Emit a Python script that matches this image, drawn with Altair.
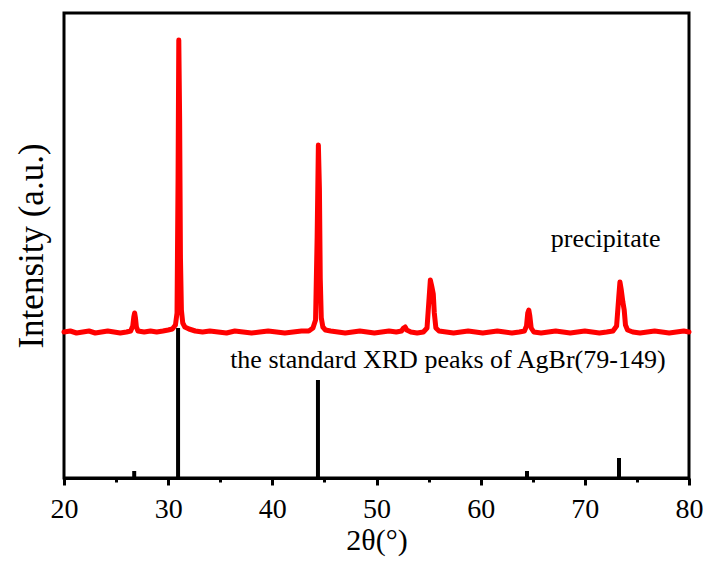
import altair as alt
import pandas as pd

# Measured XRD trace of the precipitate (2theta in degrees, intensity in arbitrary units)
two_theta = [20.0, 20.6, 21.2, 21.8, 22.4, 23.0, 23.6, 24.2, 24.8, 25.4, 26.0, 26.4,
             26.6, 26.7, 26.78, 26.86, 26.95, 27.1, 27.7, 28.3, 28.9, 29.5, 30.0, 30.4,
             30.7, 30.85, 30.95, 31.02, 31.1, 31.18, 31.27, 31.4, 31.6, 32.0, 32.6, 33.3,
             34.0, 34.8, 35.6, 36.4, 37.2, 38.0, 38.8, 39.6, 40.4, 41.2, 42.0, 42.8,
             43.5, 43.9, 44.15, 44.3, 44.42, 44.52, 44.6, 44.7, 44.85, 45.1, 45.6, 46.3,
             47.0, 47.7, 48.4, 49.1, 49.8, 50.5, 51.2, 51.9, 52.4, 52.6, 52.75, 52.9,
             53.3, 53.9, 54.5, 54.85, 55.05, 55.17, 55.3, 55.45, 55.55, 55.7, 56.0, 56.7,
             57.4, 58.1, 58.8, 59.5, 60.2, 60.9, 61.6, 62.3, 63.0, 63.7, 64.2, 64.4,
             64.52, 64.62, 64.72, 64.85, 65.1, 65.8, 66.5, 67.2, 67.9, 68.6, 69.3, 70.0,
             70.7, 71.4, 72.1, 72.7, 73.05, 73.25, 73.37, 73.5, 73.65, 73.78, 73.9, 74.1,
             74.6, 75.3, 76.0, 76.7, 77.4, 78.1, 78.8, 79.5, 80.0]
intensity = [146, 147, 145, 146, 147, 145, 146, 147, 146, 145, 146, 147,
             152, 161, 165, 160, 151, 147, 146, 147, 146, 147, 148, 149,
             153, 165, 300, 438, 360, 220, 168, 155, 151, 149, 147, 146,
             147, 146, 145, 147, 146, 145, 146, 147, 146, 145, 146, 147,
             147, 150, 158, 240, 333, 290, 200, 160, 151, 148, 147, 146,
             145, 146, 147, 146, 145, 146, 147, 146, 147, 150, 151, 148,
             146, 145, 146, 150, 180, 198, 192, 184, 165, 150, 147, 146,
             145, 146, 147, 146, 145, 146, 147, 146, 145, 146, 147, 152,
             165, 168, 162, 150, 146, 145, 146, 147, 146, 145, 146, 147,
             146, 145, 146, 147, 152, 180, 196, 188, 176, 168, 153, 148,
             146, 145, 146, 147, 146, 145, 146, 147, 146]

# Standard AgBr (79-149) reference peaks
std_pos = [26.74, 30.95, 44.38, 64.45, 73.28]
std_int = [7, 150, 98, 7, 20]

# Annotations
ann_text = ["precipitate", "the standard XRD peaks of AgBr(79-149)"]
ann_x = [72.0, 56.85]
ann_y = [231, 110]

major_ticks = [20, 30, 40, 50, 60, 70, 80]
minor_ticks = [25, 35, 45, 55, 65, 75]

FONT = "Liberation Serif"

trace = pd.DataFrame({"t": two_theta, "i": intensity})
sticks = pd.DataFrame({"t": std_pos, "i": std_int, "z": [0] * len(std_pos)})
ann = pd.DataFrame({"label": ann_text, "t": ann_x, "i": ann_y})
minor = pd.DataFrame({"t": minor_ticks})

xscale = alt.Scale(domain=[20, 80], nice=False, zero=False)
yscale = alt.Scale(domain=[0, 465], nice=False, zero=True)

x_main = alt.X("t:Q", scale=xscale,
               axis=alt.Axis(values=major_ticks, title="2θ(°)", orient="bottom",
                             domain=True, domainColor="black", domainWidth=3,
                             ticks=True, tickColor="black", tickWidth=3, tickSize=7,
                             labels=True, labelFont=FONT, labelFontSize=28,
                             labelColor="black", labelPadding=10, labelFlush=False,
                             labelOverlap=False, labelBound=False,
                             titleFont=FONT, titleFontSize=30, titleFontWeight="normal",
                             titleColor="black", titlePadding=2, grid=False))
y_axis = alt.Axis(domain=False, ticks=False, labels=False, grid=False,
                  title="Intensity (a.u.)", titleFont=FONT, titleFontSize=35,
                  titleFontWeight="normal", titleColor="black", titlePadding=15)

stick_layer = alt.Chart(sticks).mark_rule(color="black", strokeWidth=4).encode(
    x=x_main, y=alt.Y("i:Q", scale=yscale, axis=y_axis), y2="z:Q")

line_layer = alt.Chart(trace).mark_line(color="#ff0000", strokeWidth=5,
                                        strokeJoin="round", strokeCap="round").encode(
    x=alt.X("t:Q", scale=xscale, axis=None),
    y=alt.Y("i:Q", scale=yscale, axis=y_axis))

text_layer = alt.Chart(ann).mark_text(font=FONT, fontSize=26, color="black",
                                      baseline="alphabetic", align="center").encode(
    x=alt.X("t:Q", scale=xscale, axis=None),
    y=alt.Y("i:Q", scale=yscale, axis=y_axis),
    text="label:N")

minor_layer = alt.Chart(minor).mark_point(opacity=0).encode(
    x=alt.X("t:Q", scale=xscale,
            axis=alt.Axis(values=minor_ticks, orient="bottom", title=None,
                          labels=False, domain=False, grid=False,
                          ticks=True, tickColor="black", tickWidth=3, tickSize=4)),
    y=alt.value(0))

chart = alt.layer(stick_layer, line_layer, text_layer, minor_layer).resolve_axis(
    x="independent"
).properties(
    width=625, height=465,
    autosize=alt.AutoSizeParams(type="none"),
    padding={"left": 56, "top": 5, "right": 14, "bottom": 81},
).configure(background="white").configure_view(
    stroke="black", strokeWidth=3
).configure_axis(labelFont=FONT, titleFont=FONT)

chart.save("out.html", embed_options={"renderer": "svg", "actions": False})
